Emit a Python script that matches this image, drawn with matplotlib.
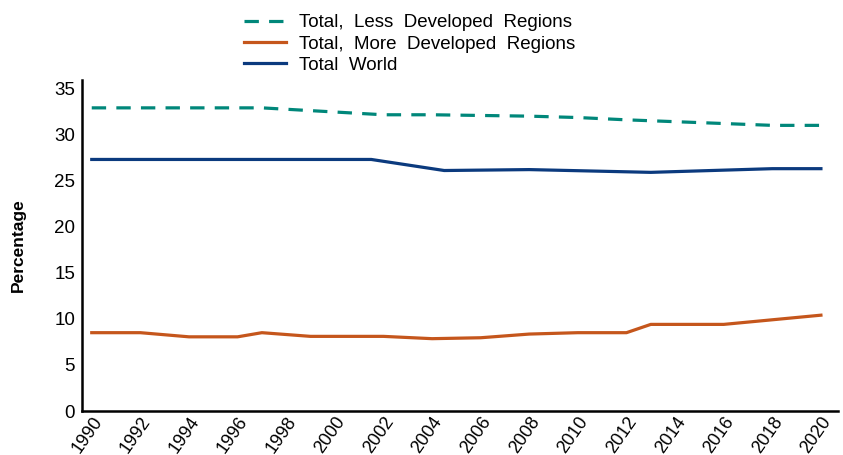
import matplotlib
matplotlib.use('Agg')
import matplotlib.pyplot as plt

plt.rcParams['font.family'] = ['Liberation Sans', 'DejaVu Sans']

# Values
less_years = [1990, 1997, 2002, 2004, 2008, 2010, 2012, 2014, 2016, 2018, 2020]
less_vals = [32.9, 32.9, 32.15, 32.15, 32.0, 31.85, 31.6, 31.4, 31.2, 31.0, 31.0]

more_years = [1990, 1992, 1994, 1996, 1997, 1999, 2002, 2004, 2006, 2008, 2010, 2012, 2013, 2016, 2020]
more_vals = [8.5, 8.5, 8.05, 8.05, 8.5, 8.1, 8.1, 7.85, 7.95, 8.35, 8.5, 8.5, 9.4, 9.4, 10.4]

world_years = [1990, 1992, 1994, 1998, 2001.5, 2004.5, 2008, 2013, 2018, 2020]
world_vals = [27.3, 27.3, 27.3, 27.3, 27.3, 26.1, 26.2, 25.9, 26.3, 26.3]

xticks = list(range(1990, 2021, 2))
yticks = [0, 5, 10, 15, 20, 25, 30, 35]

fig = plt.figure(figsize=(8.43, 4.55), dpi=100)
ax = fig.add_axes([0.0973, 0.0967, 0.8967, 0.727])

ax.plot(less_years, less_vals, color='#00877A', linewidth=2.3,
        dashes=(4.5, 3.2), label='Total,  Less  Developed  Regions')
ax.plot(more_years, more_vals, color='#C5561C', linewidth=2.3,
        label='Total,  More  Developed  Regions')
ax.plot(world_years, world_vals, color='#0B3A7E', linewidth=2.3,
        label='Total  World')

ax.set_xlim(1989.6, 2020.7)
ax.set_ylim(0, 35.9)
ax.set_xticks(xticks)
ax.set_xticklabels([str(y) for y in xticks], rotation=55, ha='right',
                   rotation_mode='anchor', fontsize=13)
ax.set_yticks(yticks)
ax.tick_params(axis='y', labelsize=13.5, length=0, pad=5)
ax.tick_params(axis='x', length=0, pad=2)
ax.set_ylabel('Percentage', fontsize=12.5, fontweight='bold', labelpad=20)

for side in ['top', 'right']:
    ax.spines[side].set_visible(False)
for side in ['left', 'bottom']:
    ax.spines[side].set_linewidth(1.8)
    ax.spines[side].set_color('black')

fig.legend(loc='upper left', bbox_to_anchor=(0.28, 0.985), frameon=False,
           fontsize=13.5, handlelength=2.25, labelspacing=0.22,
           handletextpad=0.7, borderaxespad=0)

fig.savefig('out.png', dpi=100)
